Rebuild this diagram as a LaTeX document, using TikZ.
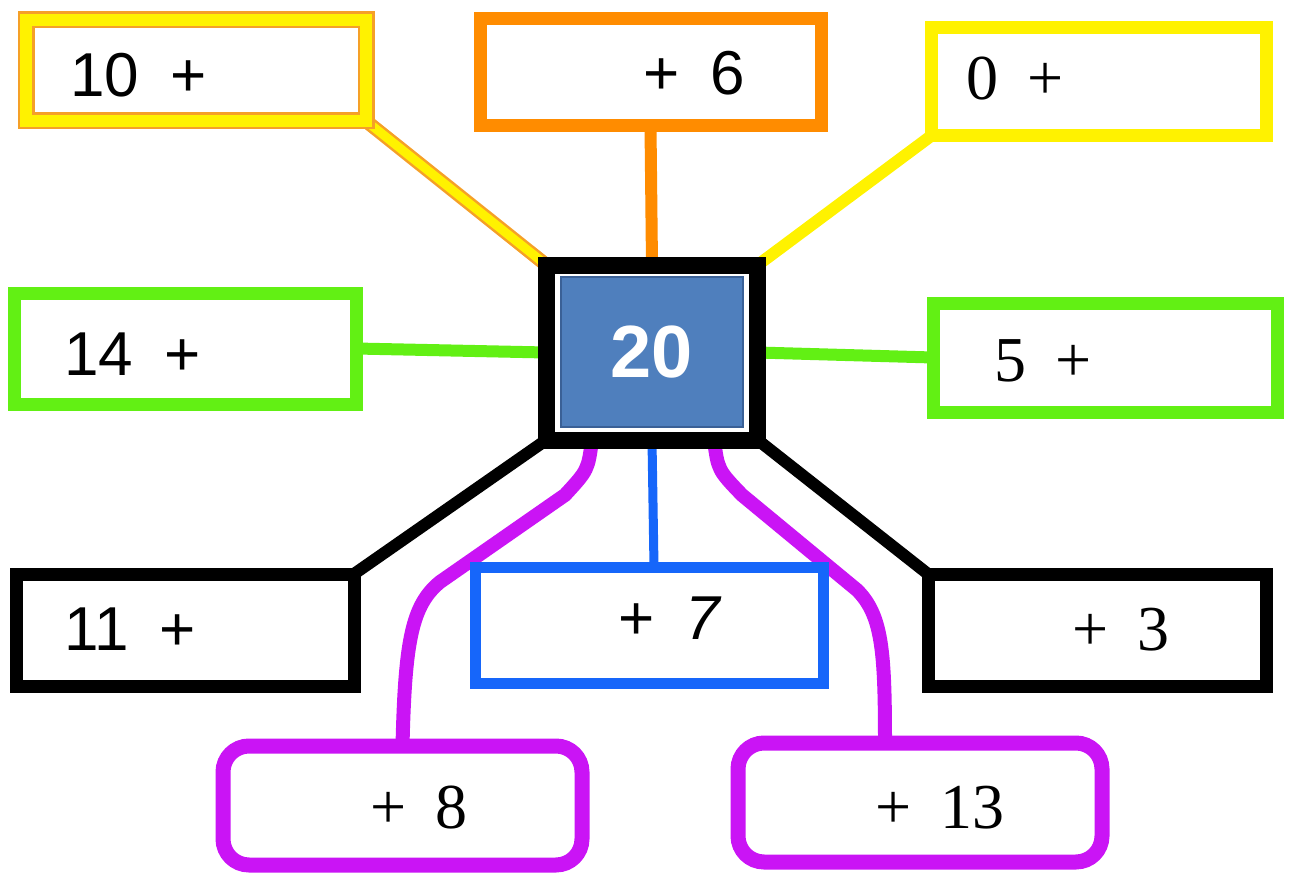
\documentclass[tikz,border=0pt]{standalone}
\usepackage{fontspec}
\setmainfont{Liberation Serif}
\newfontfamily\sansnum[WordSpace=1.8]{Liberation Sans}
\newfontfamily\serifnum[WordSpace=1.8]{Liberation Serif}
\newfontfamily\boldnum{Liberation Sans Bold}
\usetikzlibrary{backgrounds,calc}
\definecolor{cOrange}{RGB}{255,140,0}
\definecolor{cOrangeEdge}{RGB}{245,160,40}
\definecolor{cYellow}{RGB}{255,242,0}
\definecolor{cGreen}{RGB}{98,240,20}
\definecolor{cBlue}{RGB}{22,102,250}
\definecolor{cPurple}{RGB}{202,20,245}
\definecolor{cCenter}{RGB}{79,127,189}
\definecolor{cCenterEdge}{RGB}{58,96,150}
\tikzset{
  box/.style={draw, fill=white, outer sep=0pt, inner sep=0pt, line width=13pt},
  ybox/.style={box, draw=cOrangeEdge, line width=2.5pt, double=cYellow, double distance=12pt},
  rbox/.style={box, line width=15pt, rounded corners=26pt},
  link/.style={line width=12pt},
  ylink/.style={draw=cOrangeEdge, line width=2.5pt, double=cYellow, double distance=9pt},
  plink/.style={draw=cPurple, line width=14pt, line cap=round, line join=round},
  lbl/.style={anchor=base west, inner sep=0pt, font=\fontsize{62}{62}\selectfont, text=black}
}
\begin{document}
\begin{tikzpicture}[x=1pt,y=-1pt]
\useasboundingbox (0,0) rectangle (1290,880);
% boxes
\node[ybox, minimum width=340pt, minimum height=101pt] (b10) at (196,70.5) {};
\node[box, draw=cOrange, minimum width=341pt, minimum height=107pt] (b6) at (650.5,72.5) {};
\node[box, draw=cYellow, minimum width=335pt, minimum height=108pt] (b0) at (1098.5,82) {};
\node[box, draw=cGreen, minimum width=342pt, minimum height=111pt] (b14) at (185,348.5) {};
\node[box, draw=cGreen, minimum width=344pt, minimum height=109pt] (b5) at (1105,357.5) {};
\node[box, draw=black, minimum width=338pt, minimum height=112pt] (b11) at (185,630) {};
\node[box, draw=cBlue, line width=11pt, minimum width=348pt, minimum height=116pt] (b7) at (649,625) {};
\node[box, draw=black, minimum width=338pt, minimum height=112pt] (b3) at (1097,630) {};
\node[rbox, draw=cPurple, minimum width=359pt, minimum height=119pt] (b8) at (402.5,805.5) {};
\node[rbox, draw=cPurple, minimum width=364pt, minimum height=119pt] (b13) at (920,802.5) {};
% centre
\node[box, draw=black, line width=17pt, minimum width=211.5pt, minimum height=175pt] (c) at (652,352.5) {};
\node[fill=cCenter, draw=cCenterEdge, line width=2pt, outer sep=0pt, minimum width=182pt, minimum height=150pt,
      text=white, font=\boldnum\fontsize{74}{74}\selectfont] (cin) at (652,352) {20};
% labels
\node[lbl, font=\sansnum\fontsize{62}{62}\selectfont] (t10) at (70,97) {10 +};
\node[lbl, font=\sansnum\fontsize{62}{62}\selectfont] (t6) at (643,95) {+ 6};
\node[lbl, font=\serifnum\fontsize{64}{64}\selectfont] (t0) at (966,100) {0 +};
\node[lbl, font=\sansnum\fontsize{62}{62}\selectfont] (t14) at (64,375) {14 +};
\node[lbl, font=\serifnum\fontsize{64}{64}\selectfont] (t5) at (994,381) {5 +};
\node[lbl, font=\sansnum\fontsize{62}{62}\selectfont] (t11) at (64,650) {11 +};
\node[lbl, font=\sansnum\fontsize{62}{62}\selectfont] (t7) at (618,639) {+ \textit{7}};
\node[lbl, font=\serifnum\fontsize{64}{64}\selectfont] (t3) at (1072,650) {+ 3};
\node[lbl, font=\serifnum\fontsize{64}{64}\selectfont] (t8) at (370,828) {+ 8};
\node[lbl, font=\serifnum\fontsize{64}{64}\selectfont] (t13) at (875,828) {+ 13};
% connectors
\coordinate (p8s) at ($(c.south)+(-60,0)$);
\coordinate (p8a) at (565,495);
\coordinate (p8b) at (440,582);
\coordinate (p13s) at ($(c.south)+(62,0)$);
\coordinate (p13a) at (742,495);
\coordinate (p13b) at (857,590);
\coordinate (p13e) at ($(b13.north west)+(147,0)$);
\begin{scope}[on background layer]
  \draw[ylink] (b10.south east) -- (c.north west);
  \draw[link, draw=cOrange] (b6.south) -- (c.north);
  \draw[link, draw=cYellow] (b0.south west) -- (c.north east);
  \draw[link, draw=cGreen] (b14.east) -- (c.west);
  \draw[link, draw=cGreen] (c.east) -- (b5.west);
  \draw[link, draw=black] (c.south west) -- (b11.north east);
  \draw[link, draw=black] (c.south east) -- (b3.north west);
  \draw[line width=9pt, draw=cBlue] (c.south) -- ($(b7.north)+(5,0)$);
  \draw[plink] (p8s) .. controls (588,470) .. (p8a) -- (p8b) .. controls (412,605) and (405,640) .. (b8.north);
  \draw[plink] (p13s) .. controls (718,470) .. (p13a) -- (p13b) .. controls (882,615) and (885,650) .. (p13e);
\end{scope}
\end{tikzpicture}
\end{document}
